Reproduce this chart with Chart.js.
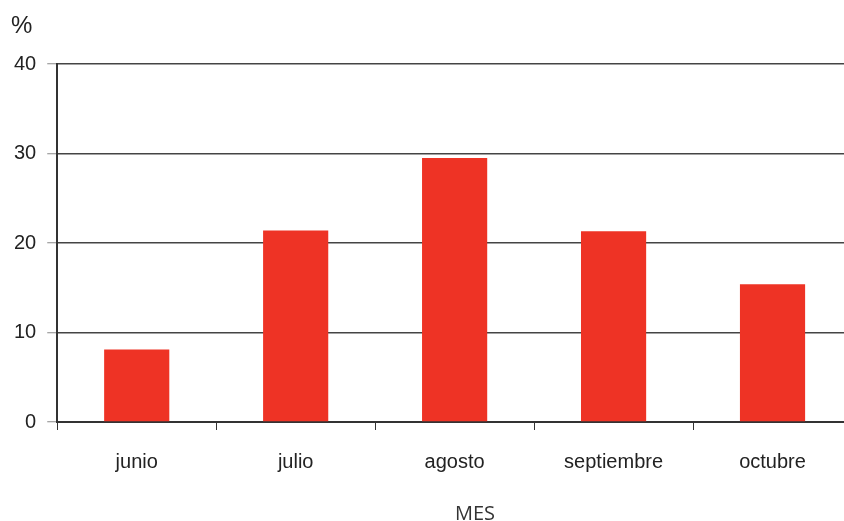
<!DOCTYPE html>
<html>
<head>
<meta charset="utf-8">
<script src="https://cdn.jsdelivr.net/npm/chart.js@4/dist/chart.umd.min.js"></script>
<style>
  body { margin: 0; background: #fff; overflow: hidden; }
  canvas { display: block; }
</style>
</head>
<body>
<!-- el grafico original esta recortado por la derecha, por eso el lienzo es algo mas ancho -->
<canvas id="grafico_mes" width="852" height="521"></canvas>
<script>
var meses = ["junio", "julio", "agosto", "septiembre", "octubre"];
var porcentajes = [8.1, 21.4, 29.5, 21.3, 15.4];
var y_ticks = [0, 10, 20, 30, 40];

// titulos sueltos: "%" arriba a la izquierda y "MES" abajo
var titulosPlugin = {
    id: "titulos",
    afterDraw: function (chart) {
        var ctx = chart.ctx;
        ctx.save();
        ctx.fillStyle = "#222";
        ctx.font = "24px 'Liberation Sans', Arial, sans-serif";
        ctx.textAlign = "left";
        ctx.textBaseline = "middle";
        ctx.fillText("%", 11, 26);
        ctx.font = "20px 'Open Sans', sans-serif";
        ctx.fillStyle = "#333";
        ctx.textAlign = "center";
        ctx.textBaseline = "alphabetic";
        ctx.fillText("MES", 475, 520);
        ctx.restore();
    },
};

var ctx1 = document.getElementById("grafico_mes");

new Chart(ctx1, {
    type: "bar",
    data: {
        labels: meses,
        datasets: [
            {
                label: "%",
                data: porcentajes,
                backgroundColor: "#ee3325",
                borderWidth: 0,
                categoryPercentage: 1,
                barPercentage: 0.41,
            },
        ],
    },
    plugins: [titulosPlugin],
    options: {
        responsive: false,
        animation: false,
        layout: {
            padding: { top: 64, left: 3, right: 0, bottom: 27 },
        },
        plugins: {
            legend: { display: false },
            tooltip: { enabled: false },
        },
        scales: {
            x: {
                offset: true,
                grid: {
                    display: true,
                    offset: true,
                    drawOnChartArea: false,
                    drawTicks: true,
                    tickLength: 8,
                    tickColor: "#333",
                    tickWidth: 1,
                },
                border: { color: "#333", width: 2 },
                ticks: {
                    color: "#222",
                    padding: 20,
                    font: { family: "'Liberation Sans', Arial, sans-serif", size: 20 },
                },
            },
            y: {
                min: 0,
                max: 40,
                afterBuildTicks: function (axis) {
                    axis.ticks = y_ticks.map(function (v) {
                        return { value: v };
                    });
                },
                grid: {
                    color: "#444",
                    lineWidth: 1.5,
                    drawTicks: true,
                    tickLength: 10,
                    tickColor: "#888",
                    tickWidth: 1,
                },
                border: { color: "#333", width: 2 },
                ticks: {
                    color: "#222",
                    padding: 11,
                    font: { family: "'Liberation Sans', Arial, sans-serif", size: 20 },
                },
            },
        },
    },
});
</script>
</body>
</html>
